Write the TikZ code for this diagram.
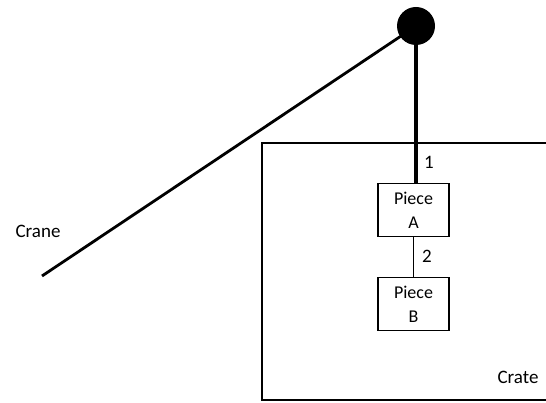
\documentclass[tikz,border=0pt]{standalone}
\usepackage{fontspec}
\setmainfont{Carlito}
\begin{document}
\begin{tikzpicture}[x=1pt,y=-1pt,
  lbl/.style={inner sep=0pt, font=\fontsize{19}{21}\selectfont},
  piece/.style={draw, line width=1.8pt, minimum width=71pt, minimum height=53pt, inner sep=0pt, align=center, font=\fontsize{18}{24}\selectfont}]
\useasboundingbox (0,0) rectangle (546,403);
% crate
\draw[line width=1.5pt] (546,143) -- (262,143) -- (262,400) -- (546,400);
% ball
\node[circle, fill=black, minimum size=38pt, inner sep=0pt] (ball) at (416,26) {};
\coordinate (craneEnd) at (42,276);
\draw[line width=2.8pt] (craneEnd) -- (ball.center);
% pieces
\node[piece] (A) at (413.5,210) {Piece\\A};
\node[piece] (B) at (413.5,304) {Piece\\B};
\draw[line width=3.2pt] (ball.center) -- (ball.center |- A.north);
\draw[line width=1.8pt] (A.south) -- (B.north);
\node[lbl] (one) at (429,162) {1};
\node[lbl] (two) at (427,256) {2};
\node[lbl] (crane) at (38,231) {Crane};
\node[lbl] (crate) at (518,377) {Crate};
\end{tikzpicture}
\end{document}
